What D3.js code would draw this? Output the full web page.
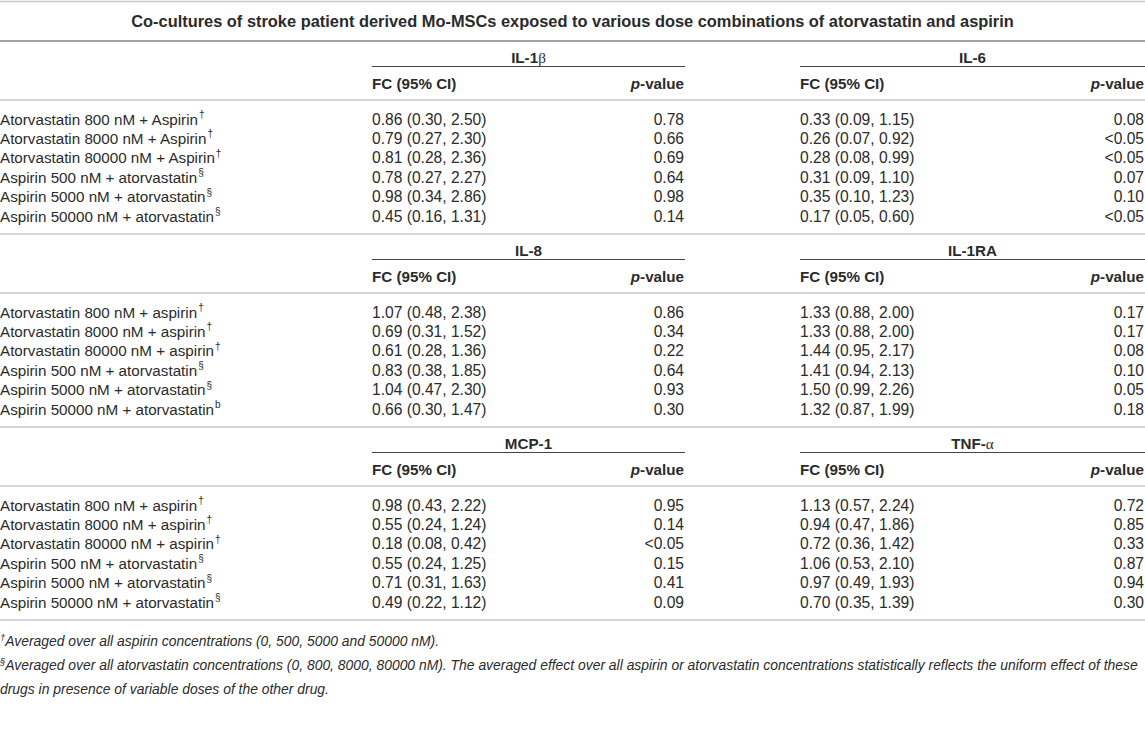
<!DOCTYPE html>
<html>
<head>
<meta charset="utf-8">
<title>Co-cultures table</title>
<script src="https://d3js.org/d3.v7.min.js"></script>
<style>
  body { margin: 0; background: #fff; }
  text { font-family: "Liberation Sans", Arial, sans-serif; }
</style>
</head>
<body>
<div id="chart"></div>
<script>
// table content
const title = "Co-cultures of stroke patient derived Mo-MSCs exposed to various dose combinations of atorvastatin and aspirin";

const rowNames = ["Atorvastatin 800 nM + ", "Atorvastatin 8000 nM + ", "Atorvastatin 80000 nM + ",
                  "Aspirin 500 nM + atorvastatin", "Aspirin 5000 nM + atorvastatin", "Aspirin 50000 nM + atorvastatin"];
const rowMarks1 = ["†", "†", "†", "§", "§", "§"];
const rowMarks2 = ["†", "†", "†", "§", "§", "b"];
const rowMarks3 = ["†", "†", "†", "§", "§", "§"];

const markers = ["IL-1", "IL-6", "IL-8", "IL-1RA", "MCP-1", "TNF-"];
const greek = ["β", "", "", "", "", "α"];

const il1bFC = [0.86, 0.79, 0.81, 0.78, 0.98, 0.45];
const il1bLo = [0.30, 0.27, 0.28, 0.27, 0.34, 0.16];
const il1bHi = [2.50, 2.30, 2.36, 2.27, 2.86, 1.31];
const il1bP  = ["0.78", "0.66", "0.69", "0.64", "0.98", "0.14"];

const il6FC = [0.33, 0.26, 0.28, 0.31, 0.35, 0.17];
const il6Lo = [0.09, 0.07, 0.08, 0.09, 0.10, 0.05];
const il6Hi = [1.15, 0.92, 0.99, 1.10, 1.23, 0.60];
const il6P  = ["0.08", "<0.05", "<0.05", "0.07", "0.10", "<0.05"];

const il8FC = [1.07, 0.69, 0.61, 0.83, 1.04, 0.66];
const il8Lo = [0.48, 0.31, 0.28, 0.38, 0.47, 0.30];
const il8Hi = [2.38, 1.52, 1.36, 1.85, 2.30, 1.47];
const il8P  = ["0.86", "0.34", "0.22", "0.64", "0.93", "0.30"];

const il1raFC = [1.33, 1.33, 1.44, 1.41, 1.50, 1.32];
const il1raLo = [0.88, 0.88, 0.95, 0.94, 0.99, 0.87];
const il1raHi = [2.00, 2.00, 2.17, 2.13, 2.26, 1.99];
const il1raP  = ["0.17", "0.17", "0.08", "0.10", "0.05", "0.18"];

const mcp1FC = [0.98, 0.55, 0.18, 0.55, 0.71, 0.49];
const mcp1Lo = [0.43, 0.24, 0.08, 0.24, 0.31, 0.22];
const mcp1Hi = [2.22, 1.24, 0.42, 1.25, 1.63, 1.12];
const mcp1P  = ["0.95", "0.14", "<0.05", "0.15", "0.41", "0.09"];

const tnfFC = [1.13, 0.94, 0.72, 1.06, 0.97, 0.70];
const tnfLo = [0.57, 0.47, 0.36, 0.53, 0.49, 0.35];
const tnfHi = [2.24, 1.86, 1.42, 2.10, 1.93, 1.39];
const tnfP  = ["0.72", "0.85", "0.33", "0.87", "0.94", "0.30"];

const footnotes = [
  ["†", "Averaged over all aspirin concentrations (0, 500, 5000 and 50000 nM)."],
  ["§", "Averaged over all atorvastatin concentrations (0, 800, 8000, 80000 nM). The averaged effect over all aspirin or atorvastatin concentrations statistically reflects the uniform effect of these"],
  ["", "drugs in presence of variable doses of the other drug."]
];

// build sections
const sections = [
  { aspirinWord: "Aspirin", marks: rowMarks1, groups: [
      { name: 0, fc: il1bFC, lo: il1bLo, hi: il1bHi, p: il1bP },
      { name: 1, fc: il6FC, lo: il6Lo, hi: il6Hi, p: il6P } ] },
  { aspirinWord: "aspirin", marks: rowMarks2, groups: [
      { name: 2, fc: il8FC, lo: il8Lo, hi: il8Hi, p: il8P },
      { name: 3, fc: il1raFC, lo: il1raLo, hi: il1raHi, p: il1raP } ] },
  { aspirinWord: "aspirin", marks: rowMarks3, groups: [
      { name: 4, fc: mcp1FC, lo: mcp1Lo, hi: mcp1Hi, p: mcp1P },
      { name: 5, fc: tnfFC, lo: tnfLo, hi: tnfHi, p: tnfP } ] }
];

let W = 1145, H = 745;
let sectionTop = 41, sectionH = 193;
let cols = [ {x0: 372, x1: 685}, {x0: 800, x1: 1145} ];
let ink = "#2b2b2b", rule = "#c8c8c8";
let fs = 15.2, fsVal = 15.6;

let svg = d3.select("#chart").append("svg")
    .attr("width", W).attr("height", H);

let ySec = d3.scaleLinear().domain([0, 1]).range([sectionTop, sectionTop + sectionH]);
let yRow = d3.scaleLinear().domain([0, 5]).range([83.5, 180.5]);

function fmt(v) { return d3.format(".2f")(v); }

// top rules and title
svg.append("line").attr("x1", 0).attr("x2", W).attr("y1", 1.5).attr("y2", 1.5)
    .attr("stroke", rule).attr("stroke-width", 1.5);
svg.append("text")
    .attr("x", W / 2).attr("y", 26.5)
    .attr("text-anchor", "middle")
    .attr("font-size", 16.4).attr("font-weight", "bold").attr("fill", ink)
    .text(title);
svg.append("line").attr("x1", 0).attr("x2", W).attr("y1", sectionTop).attr("y2", sectionTop)
    .attr("stroke", "#444").attr("stroke-width", 1.2);

sections.forEach(function(sec, si) {
    let top = ySec(si);
    let g = svg.append("g").attr("transform", "translate(0," + top + ")");

    sec.groups.forEach(function(grp, gi) {
        let c = cols[gi];
        // marker heading
        let h = g.append("text")
            .attr("x", (c.x0 + c.x1) / 2).attr("y", 21.5)
            .attr("text-anchor", "middle")
            .attr("font-size", fs).attr("font-weight", "bold").attr("fill", ink);
        h.append("tspan").text(markers[grp.name]);
        if (greek[grp.name]) {
            h.append("tspan").attr("font-family", "Liberation Serif, serif")
                .attr("font-weight", "normal").text(greek[grp.name]);
        }
        g.append("line").attr("x1", c.x0).attr("x2", c.x1).attr("y1", 25.5).attr("y2", 25.5)
            .attr("stroke", "#444").attr("stroke-width", 1.2);

        // sub headings
        g.append("text").attr("x", c.x0).attr("y", 47.5)
            .attr("font-size", fs).attr("font-weight", "bold").attr("fill", ink)
            .text("FC (95% CI)");
        let pv = g.append("text").attr("x", c.x1 - 1).attr("y", 47.5)
            .attr("text-anchor", "end")
            .attr("font-size", fs).attr("font-weight", "bold").attr("fill", ink);
        pv.append("tspan").attr("font-style", "italic").text("p");
        pv.append("tspan").text("-value");

        // values
        g.selectAll(null)
            .data(grp.fc)
            .enter()
            .append("text")
            .attr("x", c.x0)
            .attr("y", function(d, i) { return yRow(i); })
            .attr("font-size", fsVal).attr("fill", ink)
            .text(function(d, i) {
                return fmt(d) + " (" + fmt(grp.lo[i]) + ", " + fmt(grp.hi[i]) + ")";
            });
        g.selectAll(null)
            .data(grp.p)
            .enter()
            .append("text")
            .attr("x", c.x1 - 1)
            .attr("y", function(d, i) { return yRow(i); })
            .attr("text-anchor", "end")
            .attr("font-size", fsVal).attr("fill", ink)
            .text(function(d) { return d; });
    });

    // row labels
    let lab = g.selectAll(null)
        .data(rowNames)
        .enter()
        .append("text")
        .attr("x", 0)
        .attr("y", function(d, i) { return yRow(i); })
        .attr("font-size", fs).attr("fill", ink);
    lab.append("tspan").text(function(d, i) { return i < 3 ? d + sec.aspirinWord : d; });
    lab.append("tspan")
        .attr("font-size", 10).attr("dy", -6.5).attr("dx", 1)
        .text(function(d, i) { return sec.marks[i]; });

    // rules
    g.append("line").attr("x1", 0).attr("x2", W).attr("y1", 59).attr("y2", 59)
        .attr("stroke", rule).attr("stroke-width", 1.5);
    g.append("line").attr("x1", 0).attr("x2", W).attr("y1", sectionH).attr("y2", sectionH)
        .attr("stroke", rule).attr("stroke-width", 1.5);
});

// footnotes
let yNote = d3.scalePoint().domain(d3.range(footnotes.length)).range([646, 694]);
let notes = svg.selectAll(".note")
    .data(footnotes)
    .enter()
    .append("text")
    .attr("class", "note")
    .attr("x", 0)
    .attr("y", function(d, i) { return yNote(i); })
    .attr("font-size", 13.9).attr("font-style", "italic").attr("fill", ink);
notes.append("tspan").attr("font-size", 9.5).attr("dy", -5.5)
    .text(function(d) { return d[0]; });
notes.append("tspan").attr("dy", function(d) { return d[0] ? 5.5 : 0; })
    .text(function(d) { return d[1]; });
</script>
</body>
</html>
